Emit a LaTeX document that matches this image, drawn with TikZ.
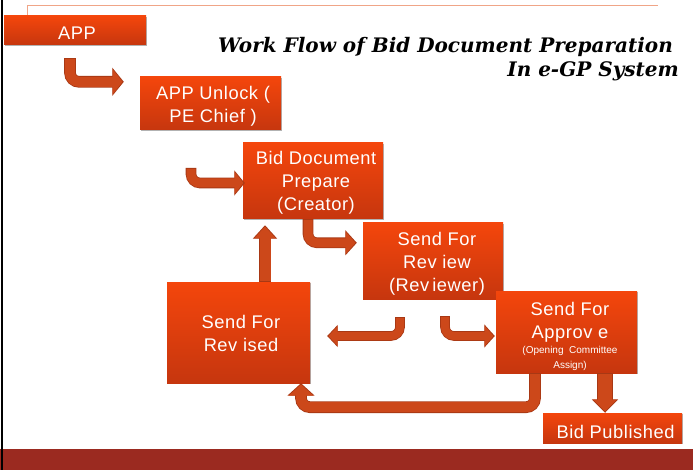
\documentclass[tikz,border=0pt]{standalone}
\usepackage{fontspec}
\setmainfont{Liberation Sans}
\newfontfamily\boxfont[LetterSpace=3]{Liberation Sans}
\newfontfamily\titlefont{DejaVu Serif}
\usetikzlibrary{arrows.meta,shadows,calc}
\definecolor{arrfill}{RGB}{204,72,26}
\definecolor{arrline}{RGB}{168,56,20}
\definecolor{boxtop}{RGB}{244,70,12}
\definecolor{boxbot}{RGB}{198,54,14}
\definecolor{band}{RGB}{155,42,32}
\definecolor{salmon}{RGB}{240,165,135}
\newcommand\flowarr[4]{%
  \pgfmathsetmacro\flowlw{#1+1.6}%
  \pgfmathsetmacro\flowhw{#2+2.6}%
  \pgfmathsetmacro\flowhl{#3+1.5}%
  \draw[arrline, line width=\flowlw pt, rounded corners=9pt,
        -{Triangle[width=\flowhw pt,length=\flowhl pt]}] #4;
  \draw[arrfill, line width=#1pt, rounded corners=9pt, shorten <=0.8pt, shorten >=1.3pt,
        -{Triangle[width=#2pt,length=#3pt]}] #4;}
\begin{document}
\begin{tikzpicture}[x=1pt,y=-1pt,
  box/.style={rectangle, top color=boxtop, bottom color=boxbot, inner sep=0pt,
    drop shadow={shadow xshift=1.2pt, shadow yshift=-1.2pt, opacity=0.3, fill=black}},
  btxt/.style={text=white, font=\boxfont\fontsize{18.3}{23}\selectfont, align=center, inner sep=0pt},
  stxt/.style={text=white, font=\fontsize{10}{15}\selectfont, align=center, inner sep=0pt},
  ttl/.style={anchor=base east, inner sep=0pt, font=\titlefont\bfseries\itshape\fontsize{20}{24}\selectfont}
]
\useasboundingbox (0,0) rectangle (693,470);
\fill[white] (0,0) rectangle (693,470);
% frame
\draw[salmon, line width=1pt] (27,15) -- (27,5.5) -- (658,5.5);
\fill[band] (0,449) rectangle (693,470);
\draw[black, line width=2.5pt] (2,0) -- (2,470);
% title
\node[ttl] (title1) at (673,53) {Work Flow of Bid Document Preparation};
\node[ttl] (title2) at (679,77) {In e-GP System};
% boxes
\node[box, minimum width=142pt, minimum height=29pt] (app) at (75,30.5) {};
\node[box, minimum width=141pt, minimum height=53pt] (unlock) at (210.5,103.5) {};
\node[box, minimum width=140pt, minimum height=76pt] (prep) at (313,181) {};
\node[box, minimum width=140pt, minimum height=76pt] (review) at (433,261) {};
\node[box, minimum width=143pt, minimum height=101pt] (revised) at (238.5,332.5) {};
\node[box, minimum width=141pt, minimum height=82pt] (approve) at (566.5,332) {};
\node[box, minimum width=139pt, minimum height=30pt] (pub) at (612.5,428) {};
% box texts
\node[btxt] (apptxt) at (77,33) {APP};
\node[btxt] (unlocktxt) at (213,106) {APP Unlock (\\PE Chief )};
\node[btxt] (preptxt) at (316,182.5) {Bid Document\\Prepare\\(Creator)};
\node[btxt] (reviewtxt) at (437,263.5) {Send For\\Rev iew\\(Rev\,iewer)};
\node[btxt] (revisedtxt) at (241,333) {Send For\\Rev ised};
\node[btxt] (approvetxt) at (570,322) {Send For\\Approv e};
\node[stxt] (approvesub) at (570,358.5) {(Opening~~Committee\\Assign)};
\node[btxt] (pubtxt) at (615.5,432) {Bid Published};
% connector end points
\coordinate (a1s) at ($(app.south)+(-5,13)$);
\coordinate (a1e) at ($(unlock.north west)+(-16,5)$);
\coordinate (a2s) at (191,168);
\coordinate (a2e) at ($(prep.west)+(2,2)$);
\coordinate (a3s) at ($(prep.south)+(-5,0)$);
\coordinate (a3e) at ($(review.north west)+(-6,20)$);
\coordinate (a4s) at ($(revised.north)+(26.5,0)$);
\coordinate (a4e) at ($(prep.south)+(-48,6)$);
\coordinate (a5s) at ($(review.south)+(-33,18)$);
\coordinate (a5e) at ($(revised.east)+(17,3.5)$);
\coordinate (a6s) at ($(review.south)+(12,17)$);
\coordinate (a6e) at ($(approve.west)+(-1,4)$);
\coordinate (a7s) at ($(approve.south)+(-31.5,0)$);
\coordinate (a7e) at ($(revised.south)+(62.5,0)$);
\coordinate (a8s) at ($(approve.south)+(38.5,0)$);
\coordinate (a8e) at (a8s |- pub.north);
% connectors
\flowarr{10}{25}{10}{(a1s) |- (a1e)}
\flowarr{9}{22}{9}{(a2s) |- (a2e)}
\flowarr{9}{22}{10}{(a3s) |- (a3e)}
\flowarr{11}{21}{12}{(a4s) -- (a4e)}
\flowarr{8}{19}{9}{(a5s) |- (a5e)}
\flowarr{8}{20}{9}{(a6s) |- (a6e)}
\flowarr{10}{24}{11}{(a7s) -- ++(0,34) -| (a7e)}
\flowarr{14}{23}{12}{(a8s) -- (a8e)}
\end{tikzpicture}
\end{document}
